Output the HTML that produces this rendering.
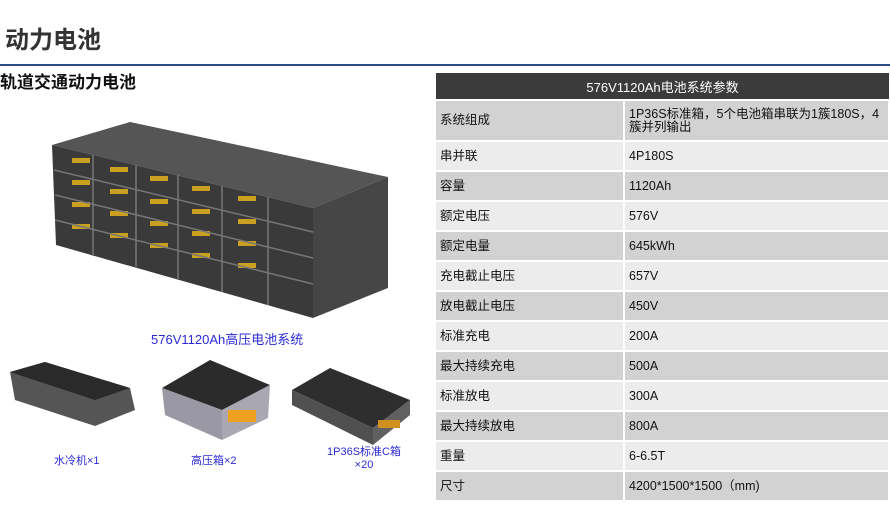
<!DOCTYPE html>
<html><head><meta charset="utf-8"><style>
body{margin:0;width:890px;height:518px;background:#fff;position:relative;overflow:hidden;font-family:"Liberation Sans","Noto Sans CJK SC",sans-serif;}
.t{position:absolute;white-space:nowrap}
table{position:absolute;left:436px;top:73px;width:454px;border-collapse:collapse;font-size:12.5px;color:#111}
td{padding:0 0 0 4px;border-bottom:2px solid #fff;border-right:2px solid #fff;height:28px;line-height:13px}
th{background:#3b3b3b;color:#fff;font-weight:normal;font-size:13px;height:24px;border-bottom:2px solid #fff}
tr.d td{background:#d2d2d2}tr.l td{background:#ececec}
td.a{width:183px}
</style></head><body>
<div class="t" style="left:5px;top:20px;font-size:24px;font-weight:bold;color:#333">动力电池</div>
<div style="position:absolute;left:0;top:64px;width:890px;height:2px;background:#2e4d85"></div>
<div class="t" style="left:0;top:68px;font-size:17px;font-weight:bold;color:#111">轨道交通动力电池</div>
<svg style="position:absolute;left:0;top:0" width="436" height="518">
<polygon points="52,145 130,122 388,177 313,208" fill="#555"/>
<polygon points="313,208 388,177 388,288 313,318" fill="#464646"/>
<polygon points="52,145 313,208 313,318 56,245" fill="#3a3a3a"/>
<g fill="#c9a020">
<rect x="72" y="158" width="18" height="5"/><rect x="110" y="167" width="18" height="5"/><rect x="150" y="176" width="18" height="5"/><rect x="192" y="186" width="18" height="5"/><rect x="238" y="196" width="18" height="5"/>
<rect x="72" y="180" width="18" height="5"/><rect x="110" y="189" width="18" height="5"/><rect x="150" y="199" width="18" height="5"/><rect x="192" y="209" width="18" height="5"/><rect x="238" y="219" width="18" height="5"/>
<rect x="72" y="202" width="18" height="5"/><rect x="110" y="211" width="18" height="5"/><rect x="150" y="221" width="18" height="5"/><rect x="192" y="231" width="18" height="5"/><rect x="238" y="241" width="18" height="5"/>
<rect x="72" y="224" width="18" height="5"/><rect x="110" y="233" width="18" height="5"/><rect x="150" y="243" width="18" height="5"/><rect x="192" y="253" width="18" height="5"/><rect x="238" y="263" width="18" height="5"/>
</g>
<g stroke="#777" stroke-width="1.5">
<line x1="54" y1="170" x2="313" y2="232"/><line x1="55" y1="195" x2="313" y2="258"/><line x1="55" y1="220" x2="313" y2="284"/>
<line x1="93" y1="155" x2="93" y2="256"/><line x1="136" y1="165" x2="136" y2="268"/><line x1="178" y1="175" x2="178" y2="280"/><line x1="222" y1="186" x2="222" y2="292"/><line x1="268" y1="197" x2="268" y2="305"/>
</g>
<polygon points="10,372 45,362 130,388 135,410 95,426 15,400" fill="#555"/>
<polygon points="10,372 45,362 130,388 95,400" fill="#2a2a2a"/>
<polygon points="162,388 210,360 270,385 222,410" fill="#2b2b2b"/>
<polygon points="162,388 222,410 222,440 165,415" fill="#9a98a4"/>
<polygon points="222,410 270,385 268,418 222,440" fill="#a9a7b2"/>
<rect x="228" y="410" width="28" height="12" fill="#f0a020"/>
<polygon points="292,390 330,368 410,400 373,428" fill="#2e2e2e"/>
<polygon points="292,390 373,428 373,445 292,405" fill="#505050"/>
<polygon points="373,428 410,400 410,415 373,445" fill="#606060"/>
<rect x="378" y="420" width="22" height="8" fill="#d09020"/>
</svg>
<div class="t" style="left:151px;top:329px;font-size:13px;color:#2a2ad8">576V1120Ah高压电池系统</div>
<div class="t" style="left:54px;top:452px;font-size:11px;color:#2a2ad8">水冷机×1</div>
<div class="t" style="left:191px;top:452px;font-size:11px;color:#2a2ad8">高压箱×2</div>
<div class="t" style="left:327px;top:446px;font-size:11px;color:#2a2ad8;text-align:center;line-height:13px">1P36S标准C箱<br>×20</div>
<table>
<tr><th colspan="2">576V1120Ah电池系统参数</th></tr>
<tr class="d"><td class="a" style="height:39px">系统组成</td><td>1P36S标准箱，5个电池箱串联为1簇180S，4簇并列输出</td></tr>
<tr class="l"><td class="a">串并联</td><td>4P180S</td></tr>
<tr class="d"><td class="a">容量</td><td>1120Ah</td></tr>
<tr class="l"><td class="a">额定电压</td><td>576V</td></tr>
<tr class="d"><td class="a">额定电量</td><td>645kWh</td></tr>
<tr class="l"><td class="a">充电截止电压</td><td>657V</td></tr>
<tr class="d"><td class="a">放电截止电压</td><td>450V</td></tr>
<tr class="l"><td class="a">标准充电</td><td>200A</td></tr>
<tr class="d"><td class="a">最大持续充电</td><td>500A</td></tr>
<tr class="l"><td class="a">标准放电</td><td>300A</td></tr>
<tr class="d"><td class="a">最大持续放电</td><td>800A</td></tr>
<tr class="l"><td class="a">重量</td><td>6-6.5T</td></tr>
<tr class="d"><td class="a">尺寸</td><td>4200*1500*1500（mm)</td></tr>
</table>
</body></html>
